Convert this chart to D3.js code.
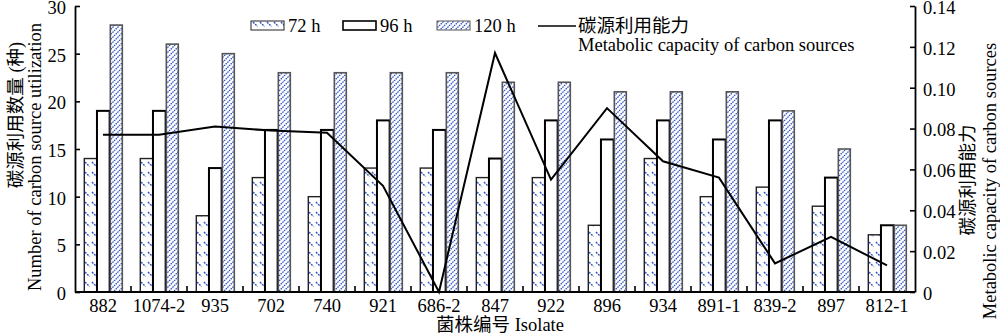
<!DOCTYPE html>
<html><head><meta charset="utf-8">
<script src="https://cdn.jsdelivr.net/npm/d3@7/dist/d3.min.js"></script>
<style>
body{margin:0;background:#fff;}
</style></head>
<body><svg id="c" width="1000" height="335"></svg>
<script>
const categories = ["882","1074-2","935","702","740","921","686-2","847","922","896","934","891-1","839-2","897","812-1"];
const series = ["72 h","96 h","120 h"];
const values72 = [14,14,8,12,10,13,13,12,12,7,14,10,11,9,6];
const values96 = [19,19,13,17,17,18,17,14,18,16,18,16,18,12,7];
const values120 = [28,26,25,23,23,23,23,22,22,21,21,21,19,15,7];
const capacity = [0.077,0.077,0.081,0.079,0.078,0.052,0.0,0.117,0.055,0.090,0.064,0.056,0.014,0.027,0.013];
const leftTicks = [0,5,10,15,20,25,30];
const rightTicks = [0,0.02,0.04,0.06,0.08,0.10,0.12,0.14];
const lineLabelCN = "碳源利用能力";
const lineLabelEN = "Metabolic capacity of carbon sources";

const FONT = "'Liberation Serif','Times New Roman','Noto Sans CJK SC',serif";
const svg = d3.select("#c");
const defs = svg.append("defs");
const blue = "#2f52c4";
// 72h pattern: sparse "\" dashes
const p1 = defs.append("pattern").attr("id","p72").attr("patternUnits","userSpaceOnUse").attr("width",7).attr("height",10);
p1.append("rect").attr("width",7).attr("height",10).attr("fill","#fff");
p1.append("line").attr("x1",1).attr("y1",2).attr("x2",5.5).attr("y2",6.5).attr("stroke",blue).attr("stroke-width",1.4).attr("stroke-dasharray","2,1");
// 120h pattern: dense "/" dashed lines
const p3 = defs.append("pattern").attr("id","p120").attr("patternUnits","userSpaceOnUse").attr("width",5).attr("height",5);
p3.append("rect").attr("width",5).attr("height",5).attr("fill","#fff");
p3.append("path").attr("d","M-1,6 L6,-1 M-1,1 L1,-1 M4,6 L6,4").attr("stroke",blue).attr("stroke-width",1.3).attr("stroke-dasharray","1.6,0.8");

const x = d3.scaleBand().domain(categories).range([75,915]).padding(0);
const xs = d3.scaleBand().domain(series).range([9.3,47.3]).padding(0);
const yL = d3.scaleLinear().domain([0,30]).range([292,6]);
const yR = d3.scaleLinear().domain([0,0.14]).range([292,6]);

const data = categories.map((c,i)=>({c, v:[values72[i],values96[i],values120[i]], cap:capacity[i]}));
const fills = ["url(#p72)","#fff","url(#p120)"];
const strokes = ["#222","#000","#555"];
const sw = [1.4,2,1.6];

const g = svg.append("g");
data.forEach(d=>{
  series.forEach((s,j)=>{
    const x0 = x(d.c)+xs(s) + (j===2?0.7:0);
    g.append("rect").attr("x",x0).attr("y",yL(d.v[j])).attr("width",xs.bandwidth()-(j===2?0.7:0)).attr("height",yL(0)-yL(d.v[j]))
      .attr("fill",fills[j]).attr("stroke",strokes[j]).attr("stroke-width",sw[j]);
  });
});

// line
const line = d3.line().x(d=>x(d.c)+x.bandwidth()/2).y(d=>yR(d.cap));
svg.append("path").datum(data).attr("d",line).attr("fill","none").attr("stroke","#000").attr("stroke-width",2);

// axes
const fs = 18.5;
const axL = svg.append("g").attr("transform","translate(75,0)").call(d3.axisLeft(yL).tickValues(leftTicks).tickSizeInner(-5).tickSizeOuter(0).tickPadding(9));
const axR = svg.append("g").attr("transform","translate(915,0)").call(d3.axisRight(yR).tickValues(rightTicks).tickSizeInner(-5).tickSizeOuter(0).tickPadding(8).tickFormat(d=>d===0?"0":d3.format(".2f")(d)));
const axB = svg.append("g").attr("transform","translate(0,292)").call(d3.axisBottom(x).tickSize(0).tickPadding(5));
// band boundary ticks
svg.append("g").selectAll("line").data(categories.slice(1)).join("line")
  .attr("x1",d=>x(d)).attr("x2",d=>x(d)).attr("y1",292).attr("y2",286).attr("stroke","#000").attr("stroke-width",1.6);
[axL,axR,axB].forEach(a=>{
  a.attr("font-family",null).attr("font-size",null);
  a.selectAll("path").attr("stroke","#000").attr("stroke-width",1.8);
  a.selectAll("line").attr("stroke","#000").attr("stroke-width",1.6);
  a.selectAll("text").attr("fill","#000");
});
axB.selectAll("text").attr("dy","0.8em");
axB.select("path").attr("d","M75,0H915");
axL.selectAll("text").attr("dy","0.4em");
axR.selectAll("text").attr("dy","0.4em");

// axis titles
svg.append("text").attr("transform","translate(22,115) rotate(-90)").attr("text-anchor","middle").text("碳源利用数量 (种)");
svg.append("text").attr("transform","translate(41,157) rotate(-90)").attr("text-anchor","middle").text("Number of carbon source utilization");
svg.append("text").attr("transform","translate(974,180) rotate(-90)").attr("text-anchor","middle").text(lineLabelCN);
svg.append("text").attr("transform","translate(996,181) rotate(-90)").attr("text-anchor","middle").text(lineLabelEN);
svg.append("text").attr("x",500).attr("y",331).attr("text-anchor","middle").text("菌株编号 Isolate");

// legend
const leg = svg.append("g");
const legX = [251,343,437];
series.forEach((s,j)=>{
  leg.append("rect").attr("x",legX[j]).attr("y",21).attr("width",33).attr("height",9)
    .attr("fill",fills[j]).attr("stroke",strokes[j]).attr("stroke-width",j===1?1.6:1);
  leg.append("text").attr("x",legX[j]+37).attr("y",32).text(s);
});
leg.append("line").attr("x1",538).attr("x2",576).attr("y1",26).attr("y2",26).attr("stroke","#000").attr("stroke-width",1.6);
leg.append("text").attr("x",578).attr("y",32).text(lineLabelCN);
leg.append("text").attr("x",578).attr("y",51).text(lineLabelEN);

svg.selectAll("text").style("font-family",FONT).style("font-size",fs+"px").style("fill","#000");
</script></body></html>
